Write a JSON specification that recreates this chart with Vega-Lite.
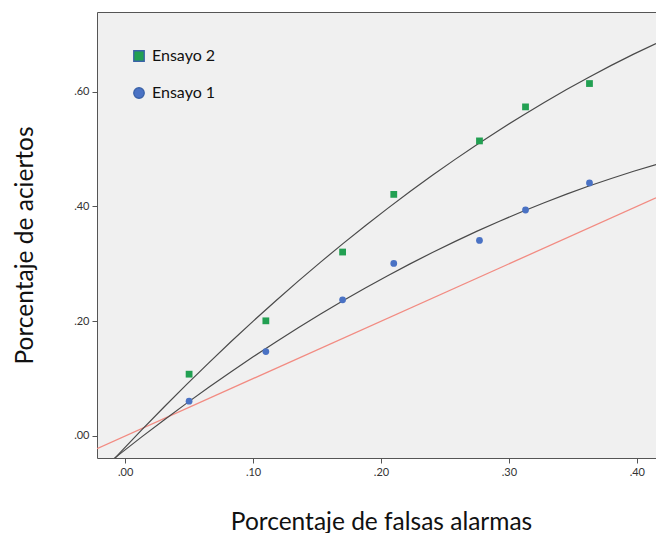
{
  "$schema": "https://vega.github.io/schema/vega-lite/v6.json",
  "autosize": "none",
  "width": 559,
  "height": 446,
  "padding": {"left": 97, "top": 12, "right": 0, "bottom": 75},
  "background": "white",
  "config": {
    "view": {"fill": "#f0f0f0", "stroke": null},
    "font": "Lato",
    "axis": {"grid": false, "domainColor": "#555555", "tickColor": "#555555", "labelColor": "#333333", "labelFont": "Lato", "labelFontSize": 11, "titleFont": "Lato", "titleFontWeight": "normal", "titleColor": "#111111"}
  },
  "datasets": {
    "puntos": [
      {"serie": "Ensayo 2", "fa": 0.05, "ac": 0.1077},
      {"serie": "Ensayo 2", "fa": 0.11, "ac": 0.2007},
      {"serie": "Ensayo 2", "fa": 0.17, "ac": 0.3206},
      {"serie": "Ensayo 2", "fa": 0.21, "ac": 0.4211},
      {"serie": "Ensayo 2", "fa": 0.277, "ac": 0.5143},
      {"serie": "Ensayo 2", "fa": 0.313, "ac": 0.5736},
      {"serie": "Ensayo 2", "fa": 0.363, "ac": 0.6143},
      {"serie": "Ensayo 1", "fa": 0.05, "ac": 0.0606},
      {"serie": "Ensayo 1", "fa": 0.11, "ac": 0.1471},
      {"serie": "Ensayo 1", "fa": 0.17, "ac": 0.2373},
      {"serie": "Ensayo 1", "fa": 0.21, "ac": 0.3007},
      {"serie": "Ensayo 1", "fa": 0.277, "ac": 0.3408},
      {"serie": "Ensayo 1", "fa": 0.313, "ac": 0.3939},
      {"serie": "Ensayo 1", "fa": 0.363, "ac": 0.441}
    ],
    "diagonal": [
      {"fa": -0.022, "ac": -0.022},
      {"fa": 0.415, "ac": 0.415}
    ]
  },
  "resolve": {"axis": {"x": "independent"}},
  "layer": [
    {
      "data": {"name": "diagonal"},
      "mark": {"type": "line", "color": "#f28b82", "strokeWidth": 1.3, "clip": true},
      "encoding": {
        "x": {"field": "fa", "type": "quantitative", "scale": {"domain": [-0.022, 0.415], "nice": false, "zero": false},
              "axis": {"orient": "top", "labels": false, "ticks": false, "title": null, "domain": true}},
        "y": {"field": "ac", "type": "quantitative", "scale": {"domain": [-0.0384, 0.739], "nice": false, "zero": false}}
      }
    },
    {
      "data": {"name": "puntos"},
      "transform": [
        {"regression": "ac", "on": "fa", "groupby": ["serie"], "method": "poly", "order": 2, "extent": [-0.022, 0.415]}
      ],
      "mark": {"type": "line", "color": "#4a4a4a", "strokeWidth": 1.2, "clip": true},
      "encoding": {
        "x": {"field": "fa", "type": "quantitative", "axis": null},
        "y": {"field": "ac", "type": "quantitative"},
        "detail": {"field": "serie"}
      }
    },
    {
      "data": {"name": "puntos"},
      "mark": {"type": "point", "filled": true, "opacity": 1, "size": 46},
      "encoding": {
        "x": {"field": "fa", "type": "quantitative",
              "axis": {"orient": "bottom", "values": [0, 0.1, 0.2, 0.3, 0.4], "labelExpr": "substring(format(datum.value, '.2f'), 1)", "tickSize": 5, "labelPadding": 3,
                       "title": "Porcentaje de falsas alarmas", "titleFontSize": 24.5, "titleX": 284, "titleY": 71, "titleBaseline": "alphabetic", "titleAnchor": null}},
        "y": {"field": "ac", "type": "quantitative",
              "axis": {"values": [0, 0.2, 0.4, 0.6], "labelExpr": "substring(format(datum.value, '.2f'), 1)", "tickSize": 5, "labelPadding": 3,
                       "title": "Porcentaje de aciertos", "titleFontSize": 24.5, "titleX": -72, "titleY": 233, "titleBaseline": "middle", "titleAngle": -90, "titleAlign": "center"}},
        "color": {"field": "serie", "type": "nominal",
                  "scale": {"domain": ["Ensayo 2", "Ensayo 1"], "range": ["#22a052", "#4a72c4"]},
                  "legend": {"orient": "none", "legendX": 34, "legendY": 36, "title": null, "labelFontSize": 16, "labelFont": "Lato", "labelColor": "#111111", "symbolSize": 110, "rowPadding": 21, "labelOffset": 5,
                             "symbolStrokeColor": "#3a62a8", "symbolStrokeWidth": 1.3,
                             "encode": {"symbols": {"enter": {"stroke": {"value": "#3a62a8"}, "strokeWidth": {"value": 1.3}}, "update": {"stroke": {"value": "#3a62a8"}, "strokeWidth": {"value": 1.3}}}}}},
        "shape": {"field": "serie", "type": "nominal",
                  "scale": {"domain": ["Ensayo 2", "Ensayo 1"], "range": ["square", "circle"]}}
      }
    }
  ]
}
